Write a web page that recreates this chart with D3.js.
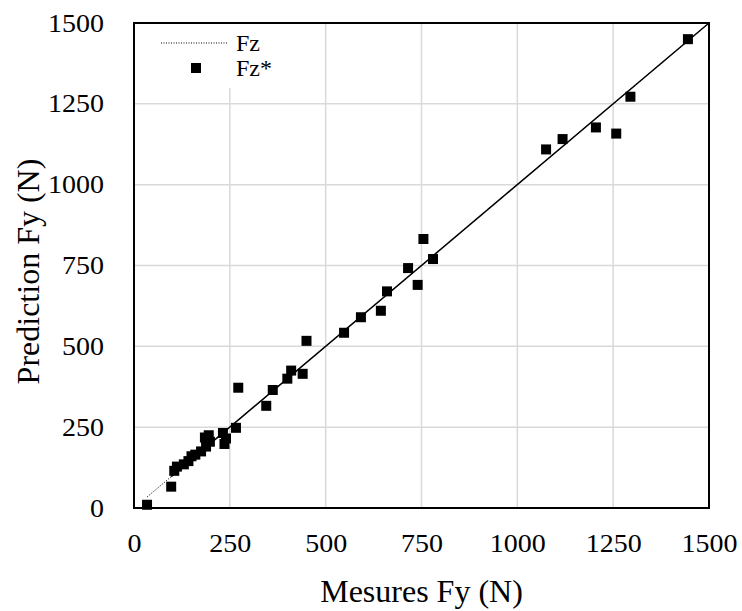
<!DOCTYPE html>
<html>
<head>
<meta charset="utf-8">
<script src="https://cdn.jsdelivr.net/npm/d3@7"></script>
<style>
  body { margin: 0; background: #fff; }
  text { font-family: "Liberation Serif", "Times New Roman", serif; fill: #000; }
</style>
</head>
<body>
<div id="grafico"></div>
<script>
const mesures = [34, 97, 105, 112, 130, 142, 150, 160, 175, 188, 185, 195, 198, 232, 236, 240, 266,
                 272, 345, 362, 400, 410, 440, 450, 548, 592, 644, 660, 715, 740, 755, 780,
                 1075, 1118, 1205, 1258, 1295, 1445];
const predictions = [10, 66, 115, 128, 135, 145, 160, 165, 175, 190, 218, 225, 205, 232, 198, 215, 248,
                     372, 316, 365, 400, 425, 415, 517, 542, 590, 610, 670, 742, 690, 832, 770,
                     1109, 1141, 1177, 1158, 1272, 1450];
// Droite Fz (y = x) : partie pointillée puis trait plein
const ligneFzPointillee = [34, 1500];
const ligneFzPleine = [97, 1500];
const graduations = [0, 250, 500, 750, 1000, 1250, 1500];

const largura = 742, altura = 611;
const margem = {top: 23, right: 33, bottom: 103, left: 134};
const w = largura - margem.left - margem.right;
const h = altura - margem.top - margem.bottom;

const svg = d3.select("#grafico").append("svg")
    .attr("width", largura)
    .attr("height", altura);

const x = d3.scaleLinear().domain([0, 1500]).range([margem.left, margem.left + w]);
const y = d3.scaleLinear().domain([0, 1500]).range([margem.top + h, margem.top]);

// Quadrillage
svg.append("g").selectAll("line.v").data(graduations.slice(1, -1)).join("line")
    .attr("x1", d => x(d)).attr("x2", d => x(d))
    .attr("y1", y(0)).attr("y2", y(1500))
    .attr("stroke", "#d9d9d9").attr("stroke-width", 1.5);
svg.append("g").selectAll("line.h").data(graduations.slice(1, -1)).join("line")
    .attr("x1", x(0)).attr("x2", x(1500))
    .attr("y1", d => y(d)).attr("y2", d => y(d))
    .attr("stroke", "#d9d9d9").attr("stroke-width", 1.5);

// Fond blanc de la légende
svg.append("rect")
    .attr("x", x(0) + 1).attr("y", y(1500) + 1)
    .attr("width", 185).attr("height", 64)
    .attr("fill", "#fff");

// Droite y = x
svg.append("line")
    .attr("x1", x(ligneFzPointillee[0])).attr("y1", y(ligneFzPointillee[0]))
    .attr("x2", x(ligneFzPointillee[1])).attr("y2", y(ligneFzPointillee[1]))
    .attr("stroke", "#000").attr("stroke-width", 1).attr("stroke-dasharray", "1,1.5");
svg.append("line")
    .attr("x1", x(ligneFzPleine[0])).attr("y1", y(ligneFzPleine[0]))
    .attr("x2", x(ligneFzPleine[1])).attr("y2", y(ligneFzPleine[1]))
    .attr("stroke", "#000").attr("stroke-width", 1.5);

// Points Fz*
const taille = 10;
svg.append("g").selectAll("rect")
    .data(mesures.map((m, i) => ({m, p: predictions[i]})))
    .join("rect")
    .attr("x", d => x(d.m) - taille / 2)
    .attr("y", d => y(d.p) - taille / 2)
    .attr("width", taille).attr("height", taille)
    .attr("fill", "#000");

// Cadre
svg.append("rect")
    .attr("x", x(0)).attr("y", y(1500))
    .attr("width", w).attr("height", h)
    .attr("fill", "none").attr("stroke", "#000").attr("stroke-width", 2);

// Axes
const axeX = svg.append("g")
    .attr("transform", `translate(0,${y(0)})`)
    .call(d3.axisBottom(x).tickValues(graduations).tickFormat(d3.format("d"))
        .tickSize(0).tickPadding(26));
const axeY = svg.append("g")
    .attr("transform", `translate(${x(0)},0)`)
    .call(d3.axisLeft(y).tickValues(graduations).tickFormat(d3.format("d"))
        .tickSize(0).tickPadding(30));
[axeX, axeY].forEach(a => {
    a.select(".domain").remove();
    a.attr("font-family", null);
    a.selectAll("text").style("font-size", "25px")
        .style("font-family", '"Liberation Serif", serif');
});
axeX.selectAll("text").attr("transform", "scale(1.12,1)");
axeY.selectAll("text").attr("dy", "0.32em")
    .attr("transform", "scale(1.12,1)").attr("x", -30 / 1.12);

// Titres des axes
svg.append("text")
    .attr("x", margem.left + w / 2).attr("y", 602)
    .attr("text-anchor", "middle")
    .style("font-size", "32px")
    .text("Mesures Fy (N)");
svg.append("text")
    .attr("transform", `translate(39,${margem.top + h / 2 + 6}) rotate(-90)`)
    .attr("text-anchor", "middle")
    .style("font-size", "32px")
    .text("Prediction Fy (N)");

// Légende
svg.append("line")
    .attr("x1", 161).attr("x2", 227).attr("y1", 43).attr("y2", 43)
    .attr("stroke", "#000").attr("stroke-width", 1).attr("stroke-dasharray", "1,1.5");
svg.append("text").attr("x", 236).attr("y", 43).attr("dy", "0.32em")
    .style("font-size", "24px").text("Fz");
svg.append("rect")
    .attr("x", 196 - taille / 2).attr("y", 68 - taille / 2)
    .attr("width", taille).attr("height", taille).attr("fill", "#000");
svg.append("text").attr("x", 236).attr("y", 68).attr("dy", "0.32em")
    .style("font-size", "24px").text("Fz*");
</script>
</body>
</html>
